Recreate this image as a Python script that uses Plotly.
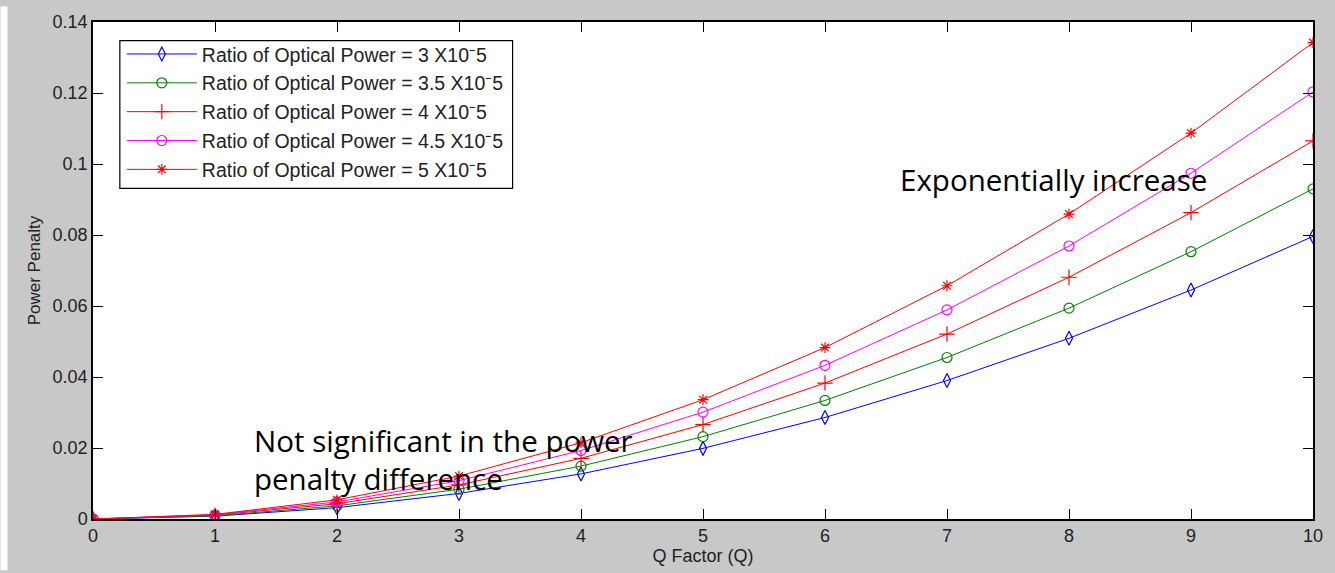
import plotly.graph_objects as go

q_factor = [0, 1, 2, 3, 4, 5, 6, 7, 8, 9, 10]

pp_3 = [0, 0.0008, 0.0032, 0.0072, 0.0127, 0.0199, 0.0286, 0.0390, 0.0509, 0.0645, 0.0796]
pp_3_5 = [0, 0.0009, 0.0037, 0.0084, 0.0149, 0.0232, 0.0334, 0.0455, 0.0594, 0.0753, 0.0930]
pp_4 = [0, 0.0011, 0.0043, 0.0096, 0.0171, 0.0266, 0.0383, 0.0521, 0.0681, 0.0863, 0.1065]
pp_4_5 = [0, 0.0012, 0.0048, 0.0108, 0.0193, 0.0301, 0.0433, 0.0589, 0.0769, 0.0974, 0.1203]
pp_5 = [0, 0.0013, 0.0054, 0.0121, 0.0215, 0.0336, 0.0483, 0.0657, 0.0859, 0.1087, 0.1342]

series_names = [
    "Ratio of Optical Power = 3 X10\u207b5",
    "Ratio of Optical Power = 3.5 X10\u207b5",
    "Ratio of Optical Power = 4 X10\u207b5",
    "Ratio of Optical Power = 4.5 X10\u207b5",
    "Ratio of Optical Power = 5 X10\u207b5",
]
series_values = [pp_3, pp_3_5, pp_4, pp_4_5, pp_5]
series_colors = ["#0000ff", "#008000", "#ff0000", "#ff00ff", "#ff0000"]
series_symbols = ["diamond-tall-open", "circle-open", "cross-thin-open", "circle-open", "asterisk-open"]
series_sizes = [10, 10, 11, 10, 9]

x_ticks = list(range(0, 11))
y_ticks = [0, 0.02, 0.04, 0.06, 0.08, 0.1, 0.12, 0.14]
y_tick_text = ["0", "0.02", "0.04", "0.06", "0.08", "0.1", "0.12", "0.14"]

fig = go.Figure()
for i, (name, vals, color, sym, size) in enumerate(zip(series_names, series_values, series_colors,
                                                       series_symbols, series_sizes)):
    fig.add_trace(go.Scatter(
        x=q_factor, y=vals, name=name, mode="lines+markers", legendgroup=f"g{i}",
        line=dict(color=color, width=1),
        marker=dict(symbol=sym, size=size, color=color,
                    line=dict(color=color, width=1.2)),
    ))

label_font = "Liberation Sans, Arial"
axis_common = dict(
    showgrid=False, zeroline=False, showline=True, linecolor="black", linewidth=1.5,
    mirror="allticks", ticks="inside", ticklen=10, tickcolor="black", tickwidth=1,
    tickfont=dict(family=label_font, size=18, color="#222222"),
)

# plot area in pixels: x 93..1320, y 16..521
px_w, px_h = 1227, 505

fig.update_layout(
    width=1335, height=573,
    margin=dict(l=93, r=15, t=16, b=52),
    paper_bgcolor="#c8c8c8",
    plot_bgcolor="white",
    showlegend=True,
    legend=dict(
        x=(122 - 93) / px_w, y=(521 - 29) / px_h, xanchor="left", yanchor="top",
        bgcolor="rgba(0,0,0,0)", borderwidth=0,
        font=dict(family=label_font, size=19.5, color="#222222"),
        tracegroupgap=0.5, itemwidth=70,
    ),
    xaxis=dict(range=[0, 10], tickvals=x_ticks,
               title=dict(text="Q Factor (Q)", standoff=2,
                          font=dict(family=label_font, size=18, color="#222222")),
               **axis_common),
    yaxis=dict(range=[0, 0.14], tickvals=y_ticks, ticktext=y_tick_text,
               title=dict(text="Power Penalty", standoff=8,
                          font=dict(family=label_font, size=17, color="#222222")),
               **axis_common),
    shapes=[
        dict(type="rect", xref="paper", yref="paper",
             x0=-93 / px_w, x1=-86 / px_w, y0=-52 / px_h, y1=1 + 16 / px_h,
             fillcolor="white", line=dict(width=0), layer="below"),
        # legend frame
        dict(type="rect", xref="paper", yref="paper",
             x0=(120 - 93) / px_w, x1=(515 - 93) / px_w,
             y0=(521 - 185) / px_h, y1=(521 - 35) / px_h,
             fillcolor="white", line=dict(color="black", width=1.2), layer="above"),
    ],
    annotations=[
        dict(text="Exponentially increase", x=(903 - 93) / 122.7, xref="x", xanchor="left",
             y=0.0956, yref="y", yanchor="middle", showarrow=False,
             font=dict(family="Open Sans", size=29.5, color="black")),
        dict(text="Not significant in the power<br>penalty difference", x=1.3,
             xref="x", xanchor="left", y=0.0169, yref="y", yanchor="middle",
             showarrow=False, align="left",
             font=dict(family="Open Sans", size=29.5, color="black")),
    ],
)

fig.write_html("out.html")
